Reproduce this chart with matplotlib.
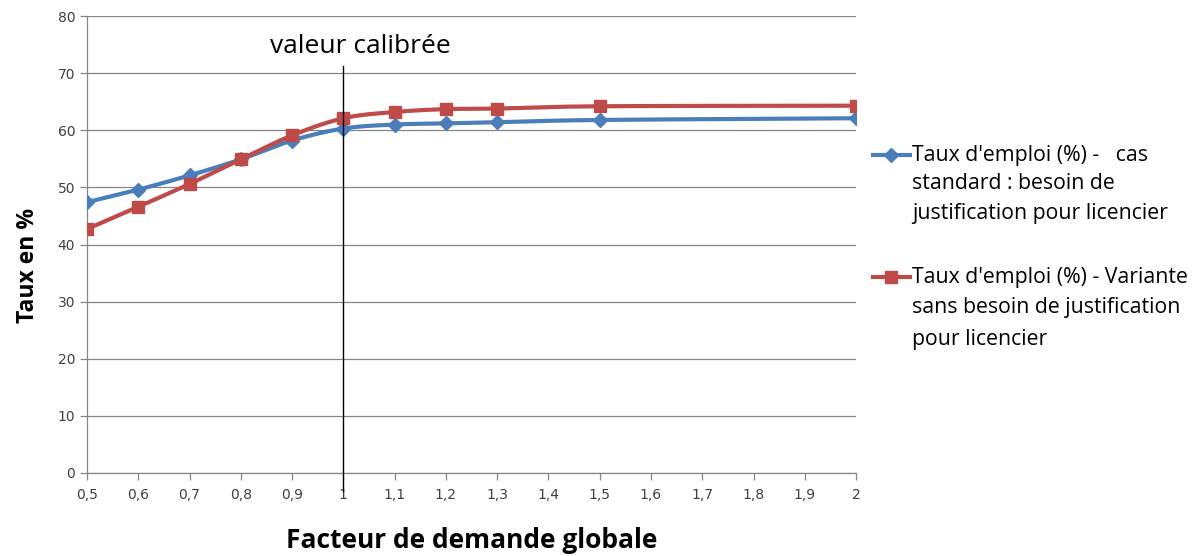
import matplotlib.pyplot as plt
from matplotlib.lines import Line2D
import numpy as np

x_vals = [0.5, 0.6, 0.7, 0.8, 0.9, 1.0, 1.1, 1.2, 1.3, 1.5, 2.0]
taux_standard = [47.4, 49.6, 52.1, 54.9, 58.2, 60.3, 61.0, 61.2, 61.4, 61.8, 62.1]
taux_variante = [42.7, 46.6, 50.6, 54.9, 59.1, 62.1, 63.2, 63.7, 63.8, 64.2, 64.3]
x_ticks = [0.5, 0.6, 0.7, 0.8, 0.9, 1.0, 1.1, 1.2, 1.3, 1.4, 1.5, 1.6, 1.7, 1.8, 1.9, 2.0]
x_ticklabels = ['0,5', '0,6', '0,7', '0,8', '0,9', '1', '1,1', '1,2', '1,3', '1,4',
                '1,5', '1,6', '1,7', '1,8', '1,9', '2']
label_standard = ["Taux d'emploi (%) -   cas", "standard : besoin de",
                  "justification pour licencier"]
label_variante = ["Taux d'emploi (%) - Variante", "sans besoin de justification",
                  "pour licencier"]

blue = '#4a7ebb'
red = '#be4b48'
grid_color = '#868686'
W, H = 1201, 556


def smooth(x, y, n=30):
    # Catmull-Rom style curve through the points, like the spreadsheet "smoothed line"
    x = np.asarray(x, float)
    y = np.asarray(y, float)
    px = np.concatenate([[2 * x[0] - x[1]], x, [2 * x[-1] - x[-2]]])
    py = np.concatenate([[2 * y[0] - y[1]], y, [2 * y[-1] - y[-2]]])
    xs, ys = [], []
    for i in range(1, len(px) - 2):
        t = np.linspace(0, 1, n)[:, None]
        p0 = np.array([px[i - 1], py[i - 1]])
        p1 = np.array([px[i], py[i]])
        p2 = np.array([px[i + 1], py[i + 1]])
        p3 = np.array([px[i + 2], py[i + 2]])
        c1 = p1 + (p2 - p0) / 6.0
        c2 = p2 - (p3 - p1) / 6.0
        pts = ((1 - t) ** 3) * p1 + 3 * ((1 - t) ** 2) * t * c1 + 3 * (1 - t) * t ** 2 * c2 + t ** 3 * p2
        xs.extend(pts[:, 0])
        ys.extend(pts[:, 1])
    return np.array(xs), np.array(ys)


fig = plt.figure(figsize=(W / 100, H / 100), dpi=100)
ax = fig.add_axes([0.0724, 0.1493, 0.6404, 0.8219])

ax.set_xlim(0.5, 2.0)
ax.set_ylim(0, 80)
ax.set_yticks(range(0, 81, 10))
ax.set_xticks(x_ticks)
ax.set_xticklabels(x_ticklabels)
ax.grid(axis='y', color=grid_color, linewidth=0.9)
ax.set_axisbelow(True)
for side in ['top', 'right']:
    ax.spines[side].set_visible(False)
for side in ['left', 'bottom']:
    ax.spines[side].set_color(grid_color)
    ax.spines[side].set_linewidth(0.9)
ax.tick_params(axis='both', colors=grid_color, length=5, width=0.9, labelsize=10,
               labelcolor='#404040')
ax.tick_params(axis='x', pad=6)

sx, sy = smooth(x_vals, taux_standard)
ax.plot(sx, sy, color=blue, linewidth=3, zorder=3)
ax.plot(x_vals, taux_standard, linestyle='none', marker='D', markersize=7,
        color=blue, zorder=4)
vx, vy = smooth(x_vals, taux_variante)
ax.plot(vx, vy, color=red, linewidth=3, zorder=3)
ax.plot(x_vals, taux_variante, linestyle='none', marker='s', markersize=9,
        color=red, zorder=4)

# calibrated value marker line
ax.axvline(1.0, ymin=-0.04, ymax=0.89, color='black', linewidth=1, clip_on=False, zorder=5)
ax.text(1.033, 74.6, 'valeur calibrée', ha='center', va='center', fontsize=19,
        family='Open Sans', color='black')

ax.set_ylabel('Taux en %', fontsize=16.5, fontweight='bold', family='Open Sans')
ax.yaxis.set_label_coords(-0.061, 0.455)
ax.set_xlabel('Facteur de demande globale', fontsize=19, fontweight='bold',
              family='Open Sans', labelpad=18)

# legend: handle next to the first line of each wrapped label
entries = [(blue, 'D', 7, label_standard, [155, 184, 213]),
           (red, 's', 9, label_variante, [277, 308, 339])]
for color, marker, ms, lines, ys in entries:
    yf = 1 - ys[0] / H
    fig.add_artist(Line2D([873 / W, 910 / W], [yf, yf], color=color, linewidth=3,
                          transform=fig.transFigure))
    fig.add_artist(Line2D([891 / W], [yf], color=color, marker=marker, markersize=ms,
                          transform=fig.transFigure))
    for txt, y in zip(lines, ys):
        fig.text(912 / W, 1 - y / H, txt, ha='left', va='center', fontsize=15.3,
                 family='Open Sans', color='black')

fig.savefig('out.png', dpi=100)
